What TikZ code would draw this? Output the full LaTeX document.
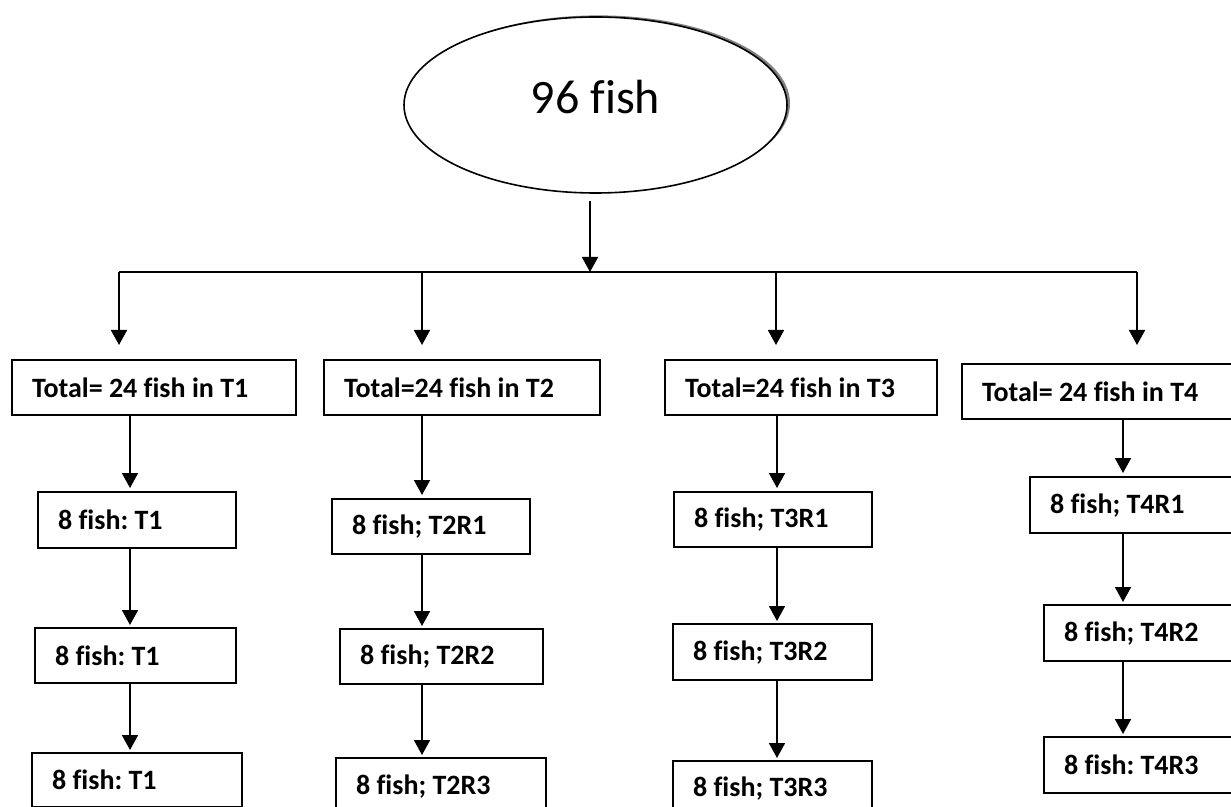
\documentclass[tikz,border=0pt]{standalone}
\usepackage{fontspec}
\setmainfont{Carlito}[Ligatures=CommonOff]
\usetikzlibrary{arrows.meta,shapes.geometric,shadows}
\tikzset{
 box/.style={draw, line width=1.1pt, anchor=north west, align=left, inner xsep=10pt, inner ysep=2pt, font=\fontsize{14}{16}\selectfont\bfseries, execute at begin node={\spaceskip=0pt\xspaceskip=0pt\frenchspacing}},
 topshape/.style={ellipse, draw, fill=white, line width=0.8pt, minimum width=191.5pt, minimum height=88pt, inner sep=0pt, text depth=8.5pt, font=\fontsize{24}{28}\selectfont, drop shadow={shadow xshift=1.5pt, shadow yshift=0.8pt, fill=black!50, opacity=1}},
 arrow/.style={-{Triangle[length=7.5pt,width=8pt]}, line width=0.9pt},
 busline/.style={line width=0.9pt}
}
\begin{document}
\begin{tikzpicture}[x=0.5pt,y=-0.5pt]
\useasboundingbox (0,0) rectangle (1231,807);
\node[topshape] (fish) at (595.5,105) {96 fish};
% bus and column positions
\coordinate (trunk) at (590,272);
\coordinate (tips) at (0,345);
\coordinate (b1) at (119,0);
\coordinate (b2) at (422,0);
\coordinate (b3) at (776,0);
\coordinate (b4) at (1137,0);
\coordinate (c1) at (130,0);
\coordinate (c2) at (422,0);
\coordinate (c3) at (777,0);
\coordinate (c4) at (1123,0);
% treatments
\node[box, text width=122pt, minimum height=27.5pt] (T1) at (11,359) {Total= 24 fish in T1};
\node[box, text width=118pt, minimum height=27.5pt] (T2) at (323,359) {Total=24 fish in T2};
\node[box, text width=116pt, minimum height=27.5pt] (T3) at (664,359) {Total=24 fish in T3};
\node[box, text width=116.5pt, minimum height=27.5pt] (T4) at (961,363) {Total= 24 fish in T4};
% replicates
\node[box, text width=79pt, minimum height=28pt] (T1-1) at (37,491) {8 fish: T1};
\node[box, text width=80.5pt, minimum height=27.5pt] (T1-2) at (34,627) {8 fish: T1};
\node[box, text width=85pt, minimum height=27pt] (T1-3) at (31,752) {8 fish: T1};
\node[box, text width=79pt, minimum height=27.5pt] (T2-1) at (331,498) {8 fish; T2R1};
\node[box, text width=81.5pt, minimum height=27.5pt] (T2-2) at (339,628) {8 fish; T2R2};
\node[box, text width=85pt, minimum height=28pt] (T2-3) at (335,757) {8 fish; T2R3};
\node[box, text width=79pt, minimum height=27.5pt] (T3-1) at (673,491) {8 fish; T3R1};
\node[box, text width=79.5pt, minimum height=28pt] (T3-2) at (672,623) {8 fish; T3R2};
\node[box, text width=79.5pt, minimum height=27pt] (T3-3) at (672,760) {8 fish; T3R3};
\node[box, text width=82.5pt, minimum height=28pt] (T4-1) at (1029,476) {8 fish; T4R1};
\node[box, text width=75.5pt, minimum height=28pt] (T4-2) at (1043,604) {8 fish; T4R2};
\node[box, text width=75.5pt, minimum height=28pt] (T4-3) at (1043,736) {8 fish: T4R3};
% connectors
\draw[arrow] ([yshift=-3.5pt]fish.south -| trunk) -- (trunk);
\draw[busline] (trunk -| b1) -- (trunk -| b4);
\foreach \i in {1,...,4}{
 \draw[arrow] (trunk -| b\i) -- (tips -| b\i);
 \draw[arrow, shorten >=1.5pt] (T\i.south -| c\i) -- (T\i-1.north -| c\i);
 \draw[arrow, shorten >=1pt] (T\i-1.south -| c\i) -- (T\i-2.north -| c\i);
 \draw[arrow, shorten >=1pt] (T\i-2.south -| c\i) -- (T\i-3.north -| c\i);
}
\end{tikzpicture}
\end{document}
